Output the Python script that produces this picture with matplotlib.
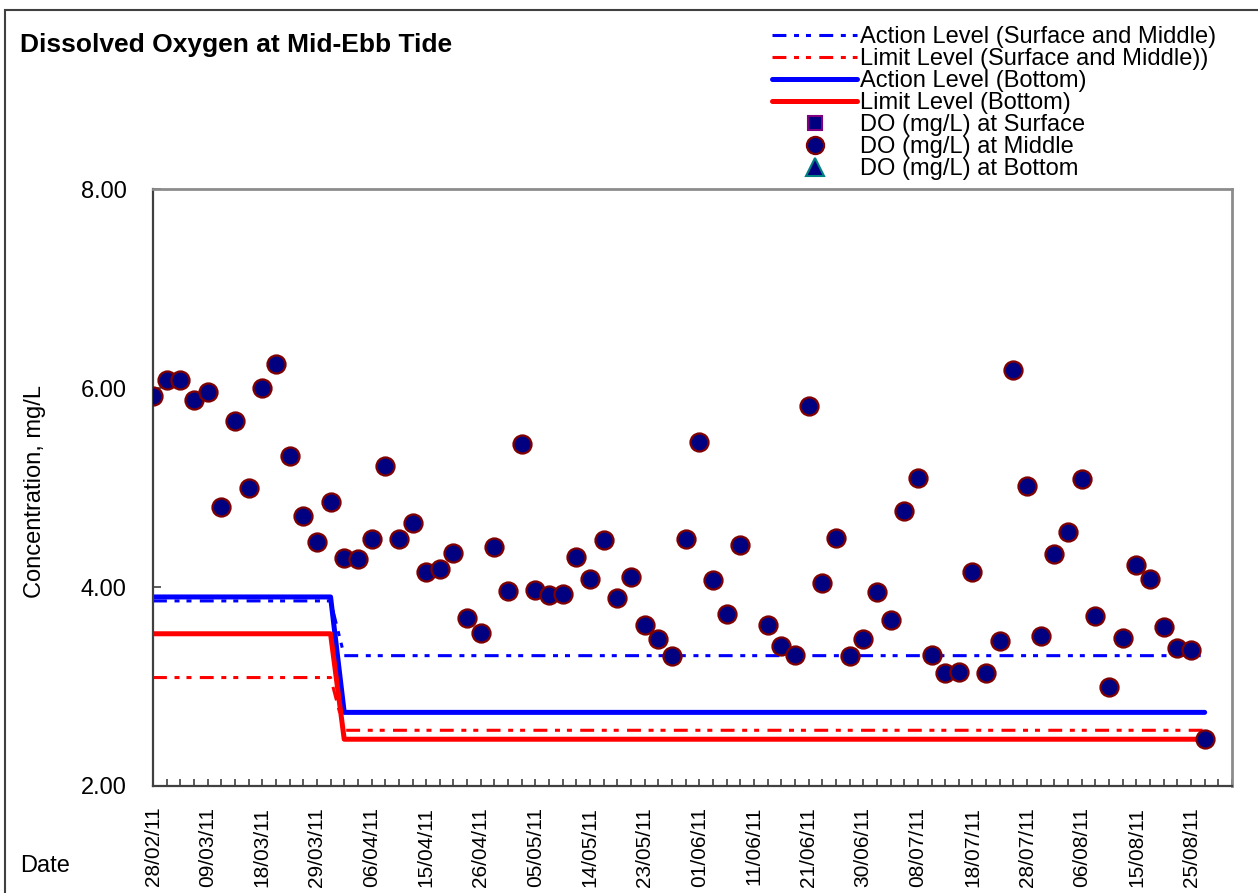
#!/usr/bin/env python3
"""Dissolved oxygen at mid-ebb tide, with action / limit levels."""
import matplotlib

matplotlib.use("Agg")
import matplotlib.pyplot as plt
import numpy as np
from matplotlib.patches import Rectangle

plt.rcParams["font.family"] = ["Liberation Sans", "DejaVu Sans"]
plt.rcParams["lines.scale_dashes"] = False

TITLE = "Dissolved Oxygen at Mid-Ebb Tide"
N_CATEGORIES = 80  # category slots on the x axis (last two are empty)

TICK_LABELS = [
    "28/02/11", "09/03/11", "18/03/11", "29/03/11", "06/04/11",
    "15/04/11", "26/04/11", "05/05/11", "14/05/11", "23/05/11",
    "01/06/11", "11/06/11", "21/06/11", "30/06/11", "08/07/11",
    "18/07/11", "28/07/11", "06/08/11", "15/08/11", "25/08/11",
]

DO_MIDDLE = [
    5.92, 6.08, 6.08, 5.88, 5.96, 4.80, 5.67, 4.99, 6.00, 6.24,
    5.32, 4.71, 4.45, 4.85, 4.29, 4.28, 4.48, 5.22, 4.48, 4.64,
    4.15, 4.18, 4.34, 3.69, 3.54, 4.40, 3.96, 5.44, 3.97, 3.92,
    3.93, 4.30, 4.08, 4.47, 3.89, 4.10, 3.62, 3.48, 3.31, 4.48,
    5.46, 4.07, 3.73, 4.42, np.nan, 3.62, 3.41, 3.32, 5.82, 4.04,
    4.49, 3.31, 3.48, 3.95, 3.67, 4.76, 5.10, 3.32, 3.14, 3.15,
    4.15, 3.14, 3.46, 6.18, 5.02, 3.51, 4.33, 4.55, 5.09, 3.71,
    3.00, 3.49, 4.22, 4.08, 3.60, 3.39, 3.37, 2.47,
]
DO_SURFACE = []
DO_BOTTOM = []

# criteria changed after the 14th survey
ACTION_SM = [3.86] * 14 + [3.31] * 64
LIMIT_SM = [3.09] * 14 + [2.56] * 64
ACTION_BOTTOM = [3.90] * 14 + [2.74] * 64
LIMIT_BOTTOM = [3.53] * 14 + [2.47] * 64

W, H = 1258, 893
DASH = (10, 5.5, 3.6, 5, 3.6, 6)


def main():
    fig = plt.figure(figsize=(W / 100, H / 100), dpi=100)
    ax = fig.add_axes([153 / W, 1 - 786 / H, (1232 - 153) / W, (786 - 189) / H])

    x = np.arange(len(DO_MIDDLE))
    h_asm, = ax.plot(x, ACTION_SM, color="#0000ff", lw=2.2, dashes=DASH,
                     label="Action Level (Surface and Middle)")
    h_lsm, = ax.plot(x, LIMIT_SM, color="#ff0000", lw=2.2, dashes=DASH,
                     label="Limit Level (Surface and Middle))")
    h_ab, = ax.plot(x, ACTION_BOTTOM, color="#0000ff", lw=3.6,
                    solid_capstyle="round", label="Action Level (Bottom)")
    h_lb, = ax.plot(x, LIMIT_BOTTOM, color="#ff0000", lw=3.6,
                    solid_capstyle="round", label="Limit Level (Bottom)")

    h_s, = ax.plot(DO_SURFACE, DO_SURFACE, ls="none", marker="s", ms=11,
                   mfc="#000080", mec="#800080", mew=1.5,
                   label="DO (mg/L) at Surface")
    h_m, = ax.plot(x, DO_MIDDLE, ls="none", marker="o", ms=13,
                   mfc="#000080", mec="#800000", mew=1.6, zorder=5,
                   label="DO (mg/L) at Middle")
    h_b, = ax.plot(DO_BOTTOM, DO_BOTTOM, ls="none", marker="^", ms=13,
                   mfc="#000080", mec="#008080", mew=1.5,
                   label="DO (mg/L) at Bottom")

    ax.set_xlim(0, N_CATEGORIES - 1)
    ax.set_ylim(2, 8)
    ax.set_yticks([2, 4, 6, 8])
    ax.yaxis.set_major_formatter("{x:.2f}")
    ax.set_xticks(np.arange(0, 4 * len(TICK_LABELS), 4))
    ax.set_xticklabels(TICK_LABELS)
    ax.set_xticks(np.arange(N_CATEGORIES), minor=True)

    ax.tick_params(axis="x", which="both", direction="in", length=5,
                   width=1.2, color="#404040")
    ax.tick_params(axis="x", which="major", labelsize=15, labelrotation=90, pad=15)
    ax.tick_params(axis="y", direction="in", length=6, width=1.2,
                   color="#404040", labelsize=17, pad=19)
    for side in ("left", "bottom"):
        ax.spines[side].set_color("#404040")
        ax.spines[side].set_linewidth(1.6)
    for side in ("top", "right"):
        ax.spines[side].set_color("#8c8c8c")
        ax.spines[side].set_linewidth(2.0)

    fig.text(20 / W, 1 - 52 / H, TITLE, fontsize=19, fontweight="bold",
             va="baseline", ha="left")
    fig.text(35 / W, 1 - 491 / H, "Concentration, mg/L", fontsize=17,
             rotation=90, ha="center", va="center")
    fig.text(20 / W, 1 - 866 / H, "Date", fontsize=17, ha="left", va="center")

    fig.legend(handles=[h_asm, h_lsm, h_ab, h_lb, h_s, h_m, h_b],
               loc="upper left", bbox_to_anchor=(772 / W, 1 - 26 / H),
               frameon=False, fontsize=17, borderpad=0, borderaxespad=0,
               handlelength=3.6, handletextpad=0.13, labelspacing=0.0,
               numpoints=1, markerscale=0.95)

    # chart-area border
    fig.add_artist(Rectangle((5 / W, -0.1), 1.2, 1.1 - 10 / H,
                             transform=fig.transFigure, fill=False,
                             ec="#404040", lw=1.5))

    fig.savefig("out.png", dpi=100)
    plt.close(fig)


if __name__ == "__main__":
    main()
